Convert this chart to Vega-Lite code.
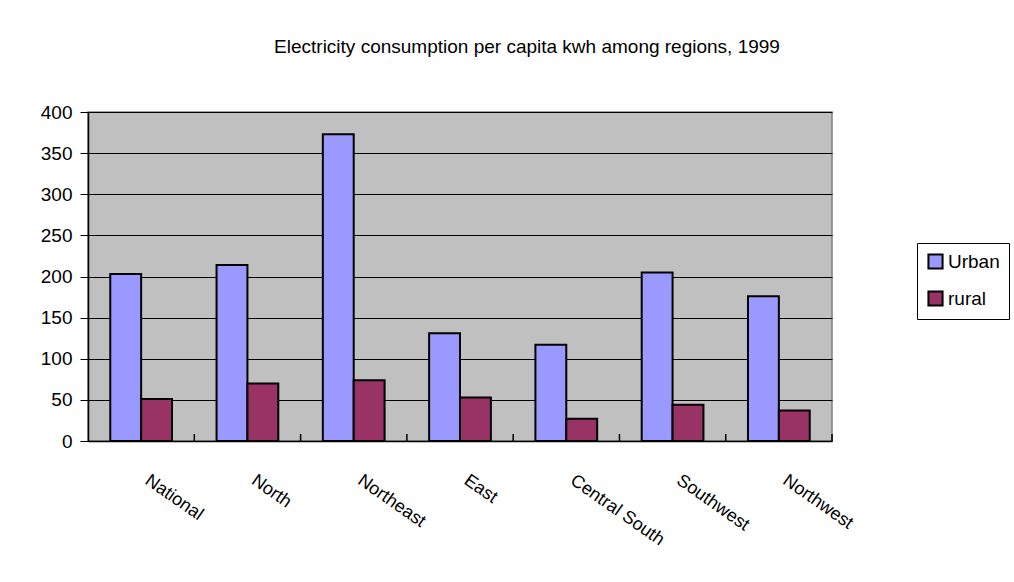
{
  "$schema": "https://vega.github.io/schema/vega-lite/v6.json",
  "autosize": "none",
  "width": 744,
  "height": 329,
  "padding": {"left": 88, "top": 112, "right": 182, "bottom": 141},
  "background": "white",
  "title": {
    "text": "Electricity consumption per capita kwh among regions, 1999",
    "font": "Liberation Sans",
    "fontSize": 19,
    "fontWeight": "normal",
    "color": "black",
    "anchor": "middle",
    "dx": 67,
    "offset": 46
  },
  "data": {
    "values": [
      {"region": "National", "series": "Urban", "value": 203},
      {"region": "National", "series": "rural", "value": 51},
      {"region": "North", "series": "Urban", "value": 214},
      {"region": "North", "series": "rural", "value": 70},
      {"region": "Northeast", "series": "Urban", "value": 373},
      {"region": "Northeast", "series": "rural", "value": 74},
      {"region": "East", "series": "Urban", "value": 131},
      {"region": "East", "series": "rural", "value": 53},
      {"region": "Central South", "series": "Urban", "value": 117},
      {"region": "Central South", "series": "rural", "value": 27},
      {"region": "Southwest", "series": "Urban", "value": 205},
      {"region": "Southwest", "series": "rural", "value": 44},
      {"region": "Northwest", "series": "Urban", "value": 176},
      {"region": "Northwest", "series": "rural", "value": 37}
    ]
  },
  "layer": [
    {
      "mark": {"type": "bar", "stroke": "black", "strokeWidth": 2},
      "encoding": {
        "x": {
          "field": "region",
          "type": "nominal",
          "sort": ["National", "North", "Northeast", "East", "Central South", "Southwest", "Northwest"],
          "scale": {"paddingInner": 0.419, "paddingOuter": 0.2095},
          "axis": {
            "title": null,
            "zindex": 1,
            "labelAngle": 35,
            "labelAlign": "left",
            "labelBaseline": "top",
            "labelFont": "Liberation Sans",
            "labelFontSize": 18,
            "labelColor": "black",
            "labelPadding": 30,
            "labelOffset": 11,
            "ticks": false,
            "domainColor": "black",
            "domainWidth": 1.5
          }
        },
        "xOffset": {"field": "series", "type": "nominal", "sort": ["Urban", "rural"]},
        "y": {
          "field": "value",
          "type": "quantitative",
          "scale": {"domain": [0, 400], "nice": false},
          "axis": {
            "title": null,
            "values": [0, 50, 100, 150, 200, 250, 300, 350, 400],
            "labelFont": "Liberation Sans",
            "labelFontSize": 19,
            "labelColor": "black",
            "labelPadding": 8,
            "tickSize": 8,
            "tickColor": "black",
            "domainColor": "black",
            "domainWidth": 1.5,
            "grid": true,
            "gridColor": "black",
            "gridWidth": 1
          }
        },
        "color": {
          "field": "series",
          "type": "nominal",
          "scale": {"domain": ["Urban", "rural"], "range": ["#9999ff", "#993366"]},
          "legend": {
            "title": null,
            "orient": "none",
            "legendX": 829,
            "legendY": 131,
            "symbolType": "square",
            "symbolSize": 200,
            "symbolStrokeColor": "black",
            "symbolStrokeWidth": 2,
            "symbolOpacity": 1,
            "labelFont": "Liberation Sans",
            "labelFontSize": 19,
            "labelColor": "black",
            "labelOffset": 3,
            "rowPadding": 14,
            "padding": 9,
            "strokeColor": "black",
            "fillColor": "white"
          }
        }
      }
    },
    {
      "transform": [{"filter": "datum.series == 'Urban'"}],
      "mark": {"type": "rule", "color": "black", "strokeWidth": 1.5, "xOffset": 22.3},
      "encoding": {
        "x": {
          "field": "region",
          "type": "nominal",
          "sort": ["National", "North", "Northeast", "East", "Central South", "Southwest", "Northwest"],
          "bandPosition": 1
        },
        "y": {"datum": 0},
        "y2": {"datum": 8.5}
      }
    }
  ],
  "config": {
    "view": {"fill": "#c0c0c0", "stroke": "#808080", "strokeWidth": 1.5}
  }
}
